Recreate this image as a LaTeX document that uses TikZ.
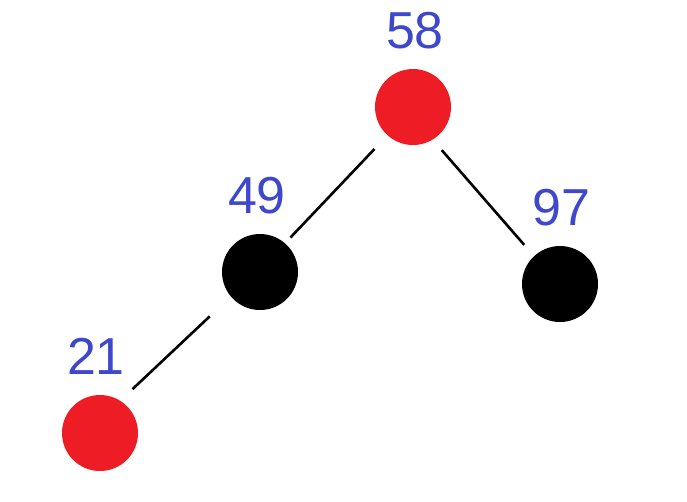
\documentclass[tikz,border=0pt]{standalone}
\usepackage{fontspec}
\setmainfont{Liberation Sans}
\usetikzlibrary{positioning}
\definecolor{nodered}{HTML}{EE1C25}
\definecolor{keyblue}{HTML}{3F48CC}
\tikzset{
  rednode/.style={circle, fill=nodered, minimum size=76pt, inner sep=0pt, outer sep=0pt},
  blacknode/.style={circle, fill=black, minimum size=76pt, inner sep=0pt, outer sep=0pt},
  key/.style={text=keyblue, inner sep=0pt, font=\fontsize{52}{56}\selectfont},
  edge/.style={line width=2.6pt, draw=black}
}
\begin{document}
\begin{tikzpicture}[x=1pt, y=-1pt]
\useasboundingbox (0,0) rectangle (687,501);
\node[rednode] (n58) at (413,107) {};
\node[blacknode] (n49) at (260,272) {};
\node[blacknode] (n97) at (560,284) {};
\node[rednode] (n21) at (100,433) {};
\node[key, above=20pt of n58, xshift=2pt] (k58) {58};
\node[key, above=20pt of n49, xshift=-3pt] (k49) {49};
\node[key, above=20pt of n97, xshift=1pt] (k97) {97};
\node[key, above=20pt of n21, xshift=-4pt] (k21) {21};
\draw[edge, shorten <=19pt, shorten >=8pt] (n58.228) -- (n49.49);
\draw[edge, shorten <=14pt, shorten >=15pt] (n58.-59) -- (n97.133);
\draw[edge, shorten <=29pt, shorten >=17pt] (n49.220) -- (n21.58);
\end{tikzpicture}
\end{document}
